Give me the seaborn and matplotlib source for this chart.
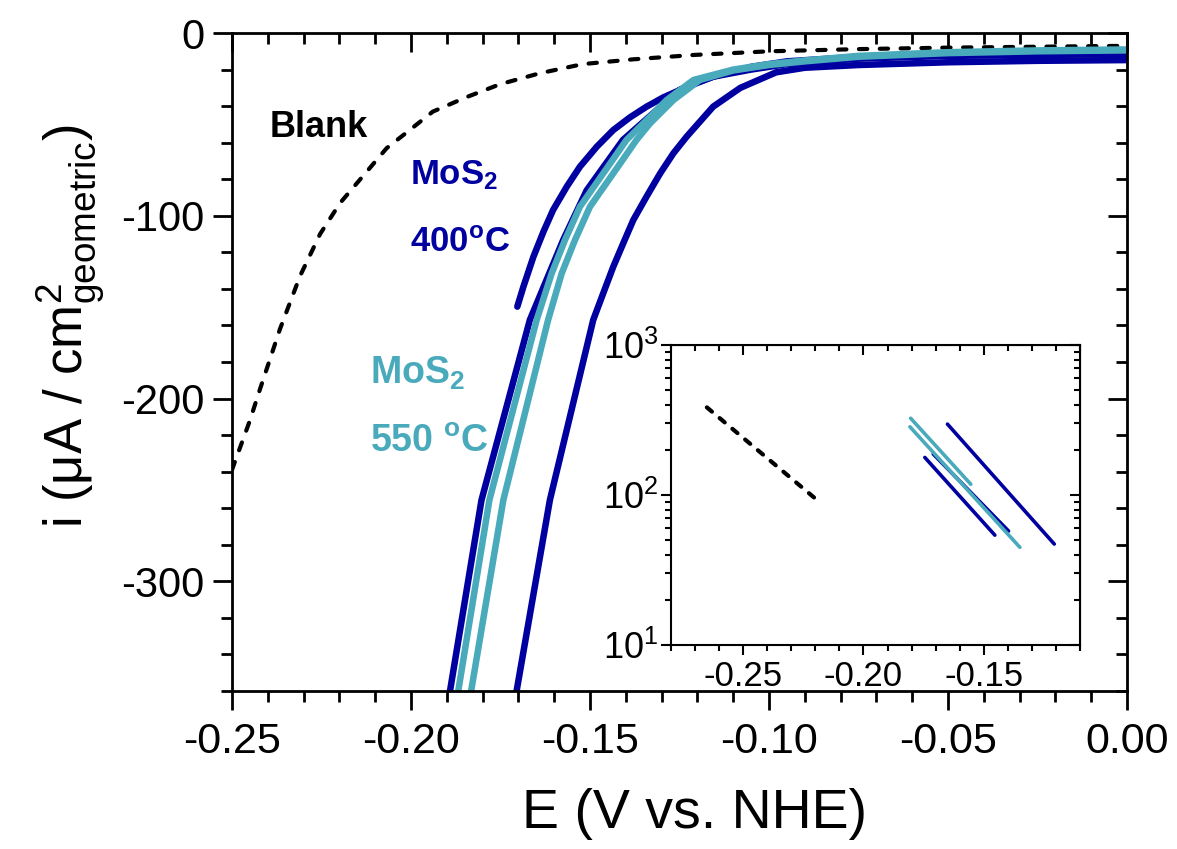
import matplotlib
matplotlib.use("Agg")
import matplotlib.pyplot as plt
import seaborn as sns
import numpy as np
from matplotlib.ticker import MultipleLocator, FormatStrFormatter, LogLocator, NullFormatter

# ---- data (E in V vs NHE, i in uA/cm2) ----
blank_E = [-0.250, -0.245, -0.2422, -0.2366, -0.2310, -0.2254, -0.2198, -0.2133, -0.2068, -0.2003,
           -0.1939, -0.1844, -0.1751, -0.164, -0.152, -0.138, -0.121, -0.100, -0.075, -0.050, -0.025, 0.0]
blank_i = [-239, -212, -195, -162, -133, -110, -93, -78, -63, -53,
           -43, -35, -28, -22, -17, -14.4, -12, -10, -8.8, -8, -7.5, -7]

# MoS2 400 C (dark blue), three scans
a400_E = [-0.1891, -0.1803, -0.1668, -0.1575, -0.1509, -0.1408, -0.1323, -0.1249, -0.1156, -0.105,
          -0.095, -0.075, -0.050, -0.025, 0.0]
a400_i = [-360, -255.5, -157, -113.3, -86, -58.5, -43.8, -31, -23.9, -20,
          -17, -14, -12.5, -12, -11.5]
s400_E = [-0.1703, -0.1686, -0.1658, -0.1630, -0.1603, -0.1565, -0.1528, -0.1481, -0.1435, -0.1388,
          -0.1342, -0.1295, -0.1249, -0.1202, -0.1156, -0.105, -0.095, -0.075, -0.050, -0.025, 0.0]
s400_i = [-149.7, -138.8, -122.4, -108.7, -96.8, -84.1, -73.1, -62.2, -53.1, -46.1,
          -40.3, -35.2, -31.2, -27.2, -23.9, -18.5, -15.5, -13, -11.5, -10.8, -10.5]
d400_E = [-0.1705, -0.1612, -0.1491, -0.1463, -0.1435, -0.1407, -0.1379, -0.1342, -0.1304, -0.1267,
          -0.1230, -0.1193, -0.1156, -0.108, -0.098, -0.090, -0.075, -0.050, -0.025, 0.0]
d400_i = [-360, -255.5, -157, -142.4, -127.9, -115, -102.3, -89.5, -76.8, -65.8,
          -56.7, -48.5, -40.3, -30, -21.5, -19, -17.5, -16, -15.2, -14.8]

# MoS2 550 C (teal), two scans
t1_E = [-0.1868, -0.1781, -0.1649, -0.1607, -0.1570, -0.1528, -0.1463, -0.1398, -0.1351, -0.1286,
        -0.1211, -0.110, -0.100, -0.090, -0.075, -0.050, -0.025, 0.0]
t1_i = [-360, -255.5, -157, -131.5, -113.3, -95, -76.8, -58.5, -49.4, -36.7,
        -25.7, -20, -17, -15, -12.5, -10.5, -9.5, -9]
t2_E = [-0.1832, -0.1742, -0.1617, -0.1579, -0.1542, -0.1500, -0.1435, -0.1370, -0.1332, -0.1267,
        -0.1193, -0.110, -0.100, -0.090, -0.075, -0.050, -0.025, 0.0]
t2_i = [-360, -255.5, -157, -131.5, -113.3, -95, -76.8, -58.5, -49.4, -36.7,
        -25.7, -20.5, -17.5, -15.5, -13, -11, -10, -9.5]

# inset (Tafel region, |i| log scale): start / end of each segment
ins_blank_E = [-0.2651, -0.2193]
ins_blank_i = [384, 92.6]
ins_400a_E = [-0.1651, -0.1207]
ins_400a_i = [297, 47.1]
ins_400b_E = [-0.1745, -0.1454]
ins_400b_i = [178, 54]
ins_400c_E = [-0.1710, -0.1397]
ins_400c_i = [187.6, 57.5]
ins_550a_E = [-0.1804, -0.1554]
ins_550a_i = [325, 118]
ins_550b_E = [-0.1807, -0.1350]
ins_550b_i = [285, 44.8]

navy = "#0000a0"
teal = "#48aabb"

sns.set_style("ticks")
plt.rcParams["font.family"] = ["Liberation Sans", "DejaVu Sans"]
plt.rcParams["axes.unicode_minus"] = False
plt.rcParams["mathtext.fontset"] = "custom"
plt.rcParams["mathtext.rm"] = "Liberation Sans"
plt.rcParams["mathtext.default"] = "regular"
for k in ["text.color", "axes.labelcolor", "xtick.color", "ytick.color", "axes.edgecolor"]:
    plt.rcParams[k] = "black"

fig = plt.figure(figsize=(11.77, 8.49), dpi=100)
ax = fig.add_axes([0.1971, 0.1861, 0.7604, 0.7750])

sns.lineplot(x=blank_E, y=blank_i, ax=ax, color="black", lw=3, sort=False, estimator=None)
ax.lines[-1].set_linestyle((0, (2, 3)))
ax.lines[-1].set_dash_capstyle("round")
for E, i, c in [(a400_E, a400_i, navy), (d400_E, d400_i, navy), (s400_E, s400_i, navy),
                (t2_E, t2_i, teal), (t1_E, t1_i, teal)]:
    sns.lineplot(x=E, y=i, ax=ax, color=c, lw=4.7, sort=False, estimator=None)
for ln in ax.lines[1:]:
    ln.set_solid_capstyle("round")
    ln.set_solid_joinstyle("round")

ax.set_xlim(-0.25, 0.0)
ax.set_ylim(-360, 0)
ax.xaxis.set_major_locator(MultipleLocator(0.05))
ax.xaxis.set_minor_locator(MultipleLocator(0.01))
ax.yaxis.set_major_locator(MultipleLocator(100))
ax.yaxis.set_minor_locator(MultipleLocator(20))
ax.xaxis.set_major_formatter(FormatStrFormatter("%.2f"))
ax.yaxis.set_major_formatter(FormatStrFormatter("%d"))
ax.tick_params(which="major", direction="out", length=14, width=2, labelsize=30, pad=6)
ax.tick_params(which="minor", direction="out", length=8, width=2)
ax.tick_params(axis="x", which="major", labelsize=31, pad=8)
for sp in ax.spines.values():
    sp.set_linewidth(2)
    sp.set_visible(True)

top = ax.secondary_xaxis("top")
top.xaxis.set_major_locator(MultipleLocator(0.05))
top.xaxis.set_minor_locator(MultipleLocator(0.01))
top.tick_params(which="major", direction="in", length=14, width=2, labeltop=False)
top.tick_params(which="minor", direction="in", length=8, width=2)
right = ax.secondary_yaxis("right")
right.yaxis.set_major_locator(MultipleLocator(100))
right.yaxis.set_minor_locator(MultipleLocator(20))
right.tick_params(which="major", direction="in", length=14, width=2, labelright=False)
right.tick_params(which="minor", direction="in", length=8, width=2)

ax.set_xlabel("E (V vs. NHE)", fontsize=40)
ax.xaxis.set_label_coords(0.517, -0.148)
ax.set_ylabel(r"i ($\mu$A / cm$^{2}_{geometric}$)", fontsize=38)
ax.yaxis.set_label_coords(-0.14, 0.555)

ax.text(-0.2394, -57, "Blank", fontsize=26, fontweight="bold", color="black")
ax.text(-0.2003, -83, r"MoS$_{2}$", fontsize=25, fontweight="bold", color=navy)
ax.text(-0.2003, -120, r"400$^{o}$C", fontsize=25, fontweight="bold", color=navy)
ax.text(-0.2115, -192, r"MoS$_{2}$", fontsize=27, fontweight="bold", color=teal)
ax.text(-0.2115, -229, r"550 $^{o}$C", fontsize=27, fontweight="bold", color=teal)

# ---- inset ----
ins = fig.add_axes([0.5701, 0.2403, 0.3475, 0.3533])
sns.lineplot(x=ins_blank_E, y=ins_blank_i, ax=ins, color="black", lw=3, sort=False, estimator=None)
ins.lines[-1].set_linestyle((0, (1.6, 2.4)))
ins.lines[-1].set_dash_capstyle("round")
for E, i, c in [(ins_400a_E, ins_400a_i, navy), (ins_400c_E, ins_400c_i, navy), (ins_400b_E, ins_400b_i, navy),
                (ins_550b_E, ins_550b_i, teal), (ins_550a_E, ins_550a_i, teal)]:
    sns.lineplot(x=E, y=i, ax=ins, color=c, lw=2.6, sort=False, estimator=None)
for ln in ins.lines[1:]:
    ln.set_solid_capstyle("round")
ins.set_yscale("log")
ins.set_xlim(-0.28, -0.11)
ins.set_ylim(10, 1000)
ins.xaxis.set_major_locator(MultipleLocator(0.05))
ins.xaxis.set_minor_locator(MultipleLocator(0.01))
ins.xaxis.set_major_formatter(FormatStrFormatter("%.2f"))
ins.yaxis.set_major_locator(LogLocator(base=10, numticks=5))
ins.yaxis.set_minor_locator(LogLocator(base=10, subs=np.arange(2, 10), numticks=10))
ins.yaxis.set_minor_formatter(NullFormatter())
ins.tick_params(which="major", direction="out", length=7, width=1.5, labelsize=25, pad=4)
ins.tick_params(axis="y", which="major", labelsize=26, pad=2)
ins.tick_params(which="minor", direction="out", length=4, width=1.5)
for sp in ins.spines.values():
    sp.set_linewidth(1.5)
    sp.set_visible(True)
itop = ins.secondary_xaxis("top")
itop.xaxis.set_major_locator(MultipleLocator(0.05))
itop.xaxis.set_minor_locator(MultipleLocator(0.01))
itop.tick_params(which="major", direction="in", length=7, width=1.5, labeltop=False)
itop.tick_params(which="minor", direction="in", length=4, width=1.5)
iright = ins.secondary_yaxis("right")
iright.set_yscale("log")
iright.yaxis.set_major_locator(LogLocator(base=10, numticks=5))
iright.yaxis.set_minor_locator(LogLocator(base=10, subs=np.arange(2, 10), numticks=10))
iright.tick_params(which="major", direction="in", length=7, width=1.5, labelright=False)
iright.tick_params(which="minor", direction="in", length=4, width=1.5)

fig.savefig("out.png", dpi=100)
